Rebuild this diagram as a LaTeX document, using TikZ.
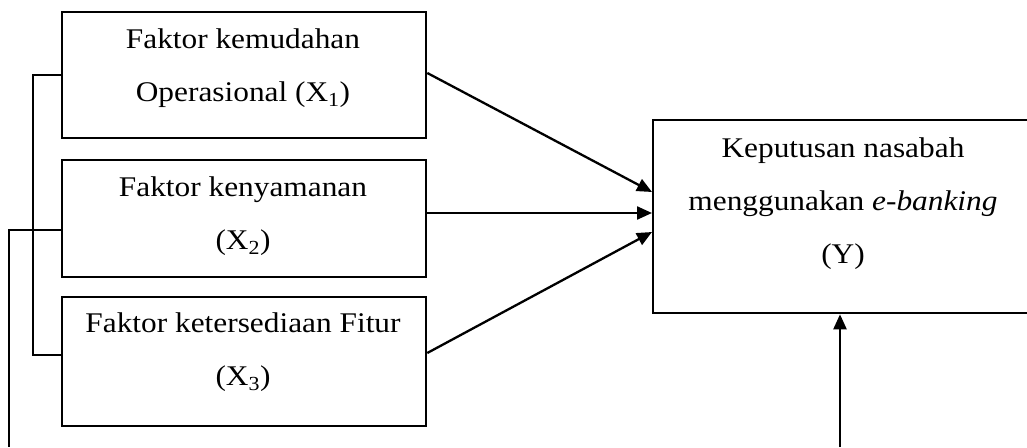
\documentclass[tikz,border=0pt]{standalone}
\usepackage{fontspec}
\setmainfont[FakeStretch=1.1]{Liberation Serif}
\usetikzlibrary{arrows.meta}
\begin{document}
\begin{tikzpicture}[x=1pt,y=-1pt,
  line width=2.3pt,
  box/.style={draw, rectangle, inner sep=0pt, anchor=north west},
  lbl/.style={align=center, font=\fontsize{28.5}{53}\selectfont, inner sep=0pt},
  arr/.style={-{Triangle[length=15pt,width=13pt]}}]
\useasboundingbox (0,0) rectangle (1027,447);
\clip (0,0) rectangle (1027,447);

% independent variables
\node[box, minimum width=364pt, minimum height=126pt] (x1) at (61,11) {};
\node[box, minimum width=364pt, minimum height=117pt] (x2) at (61,159) {};
\node[box, minimum width=364pt, minimum height=129pt] (x3) at (61,296) {};
% dependent variable (right side runs past the page edge)
\node[box, minimum width=382pt, minimum height=193pt] (y) at (652,119) {};

\node[lbl] (t1) at (243,68.5) {Faktor kemudahan\\Operasional (X\textsubscript{1})};
\node[lbl] (t2) at (243,216.5) {Faktor kenyamanan\\(X\textsubscript{2})};
\node[lbl] (t3) at (243,352.5) {Faktor ketersediaan Fitur\\(X\textsubscript{3})};
\node[lbl] (ty) at (843,204) {Keputusan nasabah\\menggunakan \textit{e-banking}\\(Y)};

% partial effects
\draw[arr] (x1.east |- 0,73) -- (y.west |- 0,192);
\draw[arr] (x2.east |- 0,213) -- (y.west |- 0,213);
\draw[arr] (x3.east |- 0,353) -- (y.west |- 0,232);

% simultaneous effect
\coordinate (ja) at (33,75);
\coordinate (jb) at (33,355);
\draw (x1.west |- ja) -- (ja) -- (jb) -- (x3.west |- jb);
\coordinate (oa) at (9,230);
\coordinate (ob) at (9,447);
\coordinate (oc) at (840,447);
\draw (x2.west |- oa) -- (oa) -- (ob);
\draw[arr] (oc) -- (y.south -| oc);
\end{tikzpicture}
\end{document}
